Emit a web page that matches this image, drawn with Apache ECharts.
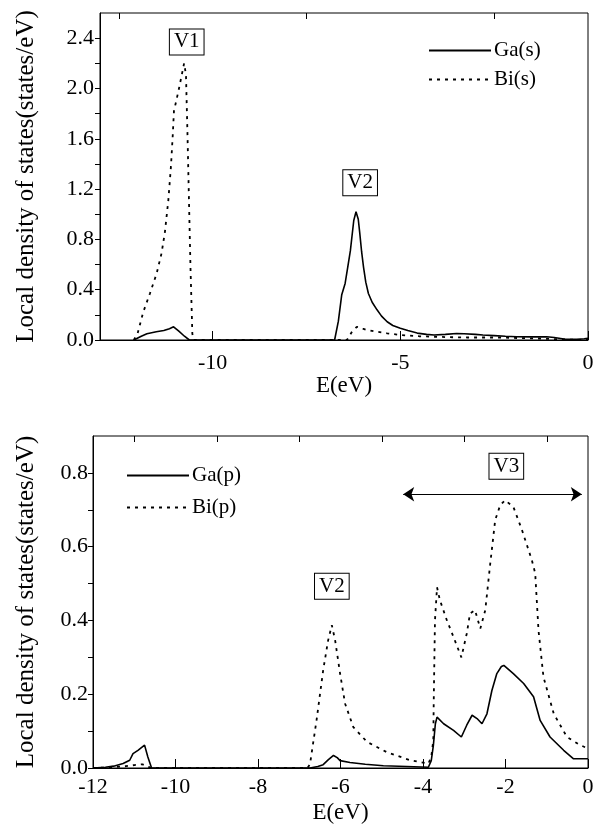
<!DOCTYPE html>
<html>
<head>
<meta charset="utf-8">
<script src="https://cdn.jsdelivr.net/npm/echarts@6/dist/echarts.min.js"></script>
<style>
html,body{margin:0;padding:0;background:#fff;}
#c{width:600px;height:830px;}
</style>
</head>
<body>
<div id="c"></div>
<script>
// ---------- data (E in eV, LDOS in states/eV) ----------
var gaS = [[-12.1,0],[-12.07,0],[-11.9,0.03],[-11.75,0.05],[-11.5,0.065],[-11.3,0.075],[-11.15,0.09],[-11.04,0.105],[-10.9,0.07],[-10.75,0.03],[-10.62,0],[-6.75,0],[-6.65,0.15],[-6.56,0.36],[-6.47,0.45],[-6.4,0.58],[-6.33,0.71],[-6.24,0.95],[-6.18,1.02],[-6.12,0.96],[-6.08,0.85],[-6.03,0.7],[-5.98,0.58],[-5.92,0.46],[-5.85,0.37],[-5.75,0.3],[-5.62,0.24],[-5.5,0.19],[-5.35,0.145],[-5.2,0.115],[-5,0.093],[-4.8,0.075],[-4.55,0.055],[-4.3,0.045],[-4.1,0.04],[-3.8,0.045],[-3.5,0.052],[-3.3,0.05],[-3.0,0.045],[-2.8,0.04],[-2.5,0.035],[-2.2,0.03],[-1.9,0.026],[-1.5,0.025],[-1.1,0.026],[-0.9,0.02],[-0.6,0.006],[-0.3,0.005],[-0.1,0.01],[0,0.013]];
var biS = [[-12.1,0],[-12.07,0],[-12.0,0.05],[-11.85,0.22],[-11.67,0.37],[-11.49,0.53],[-11.36,0.69],[-11.27,0.86],[-11.18,1.11],[-11.11,1.38],[-11.06,1.64],[-11.03,1.82],[-10.91,1.98],[-10.82,2.11],[-10.76,2.2],[-10.71,2.11],[-10.67,1.64],[-10.63,1.11],[-10.59,0.58],[-10.54,0.05],[-10.5,0],[-6.42,0],[-6.3,0.06],[-6.16,0.105],[-6.0,0.09],[-5.89,0.08],[-5.6,0.065],[-5.35,0.053],[-5,0.04],[-4.5,0.03],[-4.11,0.026],[-3.6,0.022],[-3.22,0.02],[-2.8,0.02],[-2.33,0.02],[-1.9,0.016],[-1.44,0.013],[-1.0,0.008],[-0.5,0.003],[0,0]];
var gaP = [[-12,0],[-11.7,0.002],[-11.5,0.005],[-11.27,0.012],[-11.11,0.021],[-11.03,0.039],[-10.91,0.048],[-10.75,0.062],[-10.67,0.03],[-10.58,0],[-6.74,0],[-6.55,0.004],[-6.42,0.009],[-6.3,0.022],[-6.17,0.034],[-6.08,0.028],[-6.01,0.02],[-5.77,0.015],[-5.4,0.01],[-4.96,0.006],[-4.4,0.004],[-3.87,0.002],[-3.8,0.02],[-3.75,0.06],[-3.7,0.12],[-3.66,0.138],[-3.5,0.12],[-3.26,0.102],[-3.07,0.084],[-2.94,0.116],[-2.81,0.143],[-2.69,0.134],[-2.57,0.12],[-2.45,0.147],[-2.33,0.21],[-2.21,0.256],[-2.1,0.275],[-2.04,0.278],[-1.81,0.256],[-1.56,0.229],[-1.32,0.193],[-1.16,0.129],[-0.92,0.084],[-0.59,0.048],[-0.35,0.025],[-0.1,0.025],[0,0.025]];
var biP = [[-12,0],[-11.5,0.002],[-11.2,0.005],[-11.0,0.008],[-10.8,0.01],[-10.65,0.003],[-10.6,0],[-6.8,0],[-6.74,0.01],[-6.58,0.13],[-6.42,0.265],[-6.3,0.346],[-6.21,0.387],[-6.13,0.346],[-6.01,0.256],[-5.89,0.175],[-5.69,0.111],[-5.36,0.071],[-4.88,0.043],[-4.31,0.021],[-3.87,0.012],[-3.8,0.03],[-3.75,0.075],[-3.74,0.18],[-3.71,0.4],[-3.66,0.49],[-3.59,0.455],[-3.42,0.4],[-3.26,0.355],[-3.07,0.3],[-2.94,0.364],[-2.86,0.419],[-2.74,0.428],[-2.61,0.378],[-2.49,0.428],[-2.37,0.554],[-2.25,0.672],[-2.13,0.712],[-2.01,0.726],[-1.81,0.708],[-1.6,0.645],[-1.36,0.563],[-1.28,0.528],[-1.2,0.373],[-1.08,0.247],[-0.83,0.147],[-0.51,0.084],[-0.19,0.062],[0,0.053]];

// ---------- tick labels ----------
var topXLabels = [-10,-5,0];
var topXMinor = [-12.5,-7.5,-2.5];
var topYLabels = [0,0.4,0.8,1.2,1.6,2.0,2.4];
var topYTicks = [0,0.2,0.4,0.6,0.8,1.0,1.2,1.4,1.6,1.8,2.0,2.2,2.4];
var botXLabels = [-12,-10,-8,-6,-4,-2,0];
var botXMinor = [-11,-9,-7,-5,-3,-1];
var botYLabels = [0,0.2,0.4,0.6,0.8];
var botYTicks = [0,0.1,0.2,0.3,0.4,0.5,0.6,0.7,0.8];

// ---------- annotations (data coordinates) ----------
var topNotes = [{name:'V1',coord:[-10.69,2.37]},{name:'V2',coord:[-6.07,1.25]}];
var botNotes = [{name:'V2',coord:[-6.21,0.493]},{name:'V3',coord:[-1.98,0.818]}];
var v3Range = [-4.48,-0.15];
var v3Level = 0.742;

var FONT = "'Liberation Serif', 'Times New Roman', serif";
var BLACK = '#000';
var TICK_FS = 22, NAME_FS = 23, LEG_FS = 21;

function xAxisCfg(grid, min, max, labels, ticks, tickLen, showLabel, showLine, name, nameGap, margin){
  return {
    type:'value', gridIndex:grid, min:min, max:max,
    name: name || '', nameLocation:'middle', nameGap:nameGap || 0,
    nameTextStyle:{fontFamily:FONT,fontSize:NAME_FS,color:BLACK},
    axisLine:{show:showLine,onZero:false,lineStyle:{color:BLACK,width:1}},
    axisTick:{show:true,inside:true,length:tickLen,customValues:ticks,lineStyle:{color:BLACK,width:1}},
    axisLabel:{show:showLabel,customValues:labels,margin:margin||8,fontFamily:FONT,fontSize:TICK_FS,color:BLACK,
      formatter:function(v){return String(v);}},
    splitLine:{show:false}
  };
}
function yAxisCfg(grid, min, max, labels, ticks, name, nameGap, margin){
  return {
    type:'value', gridIndex:grid, min:min, max:max,
    name:name, nameLocation:'middle', nameGap:nameGap,
    nameTextStyle:{fontFamily:FONT,fontSize:25,color:BLACK},
    axisLine:{show:true,onZero:false,lineStyle:{color:BLACK,width:1}},
    axisTick:{show:true,inside:false,length:5,customValues:ticks,lineStyle:{color:BLACK,width:1}},
    axisLabel:{show:true,customValues:labels,margin:margin,fontFamily:FONT,fontSize:TICK_FS,color:BLACK,
      formatter:function(v){return v.toFixed(1);}},
    splitLine:{show:false}
  };
}
var noteLabel = {show:true,position:'inside',formatter:'{b}',color:BLACK,fontFamily:FONT,fontSize:21,
  borderColor:BLACK,borderWidth:1,backgroundColor:'#fff',padding:[3,4,1,4]};
function notes(list){
  return {symbol:'rect',symbolSize:1,itemStyle:{color:'rgba(0,0,0,0)'},label:noteLabel,silent:true,
    data:list.map(function(n){return {name:n.name,coord:n.coord};})};
}
var solid = {color:BLACK,width:1.6,type:'solid'};
var dotted = {color:BLACK,width:1.8,type:[3,5]};
var legendBase = {orient:'vertical',itemWidth:62,itemHeight:14,selectedMode:false,padding:0,
  itemStyle:{opacity:0},textStyle:{fontFamily:FONT,fontSize:LEG_FS,color:BLACK,padding:[0,0,0,-2]}};

var chart = echarts.init(document.getElementById('c'),null,{renderer:'canvas'});
chart.setOption({
  animation:false,
  backgroundColor:'#fff',
  grid:[
    {left:100,right:12,top:13,bottom:490,show:true,borderColor:BLACK,borderWidth:1,backgroundColor:'transparent'},
    {left:93,right:12,top:436,bottom:62,show:true,borderColor:BLACK,borderWidth:1,backgroundColor:'transparent'}
  ],
  xAxis:[
    xAxisCfg(0,-13,0,topXLabels,topXLabels,9,true,true,'E(eV)',29,12),
    xAxisCfg(0,-13,0,[],topXMinor,6,false,false),
    xAxisCfg(1,-12,0,botXLabels,botXLabels,9,true,true,'E(eV)',33,8),
    xAxisCfg(1,-12,0,[],botXMinor,6,false,false)
  ],
  yAxis:[
    yAxisCfg(0,0,2.6,topYLabels,topYTicks,'Local density of states(states/eV)',61,6),
    yAxisCfg(1,0,0.9,botYLabels,botYTicks,'Local density of states(states/eV)',54,5)
  ],
  legend:[
    Object.assign({data:['Ga(s)','Bi(s)'],left:428,top:40,itemGap:8},legendBase),
    Object.assign({data:['Ga(p)','Bi(p)'],left:126,top:465,itemGap:11},legendBase)
  ],
  series:[
    {name:'Ga(s)',type:'line',xAxisIndex:0,yAxisIndex:0,data:gaS,showSymbol:false,symbol:'none',
      lineStyle:solid,itemStyle:{color:BLACK},silent:true,markPoint:notes(topNotes)},
    {name:'Bi(s)',type:'line',xAxisIndex:0,yAxisIndex:0,data:biS,showSymbol:false,symbol:'none',
      lineStyle:dotted,itemStyle:{color:BLACK},silent:true},
    {name:'Ga(p)',type:'line',xAxisIndex:2,yAxisIndex:1,data:gaP,showSymbol:false,symbol:'none',
      lineStyle:solid,itemStyle:{color:BLACK},silent:true,markPoint:notes(botNotes),
      markLine:{silent:true,symbol:['arrow','arrow'],symbolSize:[11,11],label:{show:false},
        lineStyle:{color:BLACK,width:1.2,type:'solid'},
        data:[[{coord:[v3Range[0],v3Level]},{coord:[v3Range[1],v3Level]}]]}},
    {name:'Bi(p)',type:'line',xAxisIndex:2,yAxisIndex:1,data:biP,showSymbol:false,symbol:'none',
      lineStyle:dotted,itemStyle:{color:BLACK},silent:true}
  ]
});
</script>
</body>
</html>
